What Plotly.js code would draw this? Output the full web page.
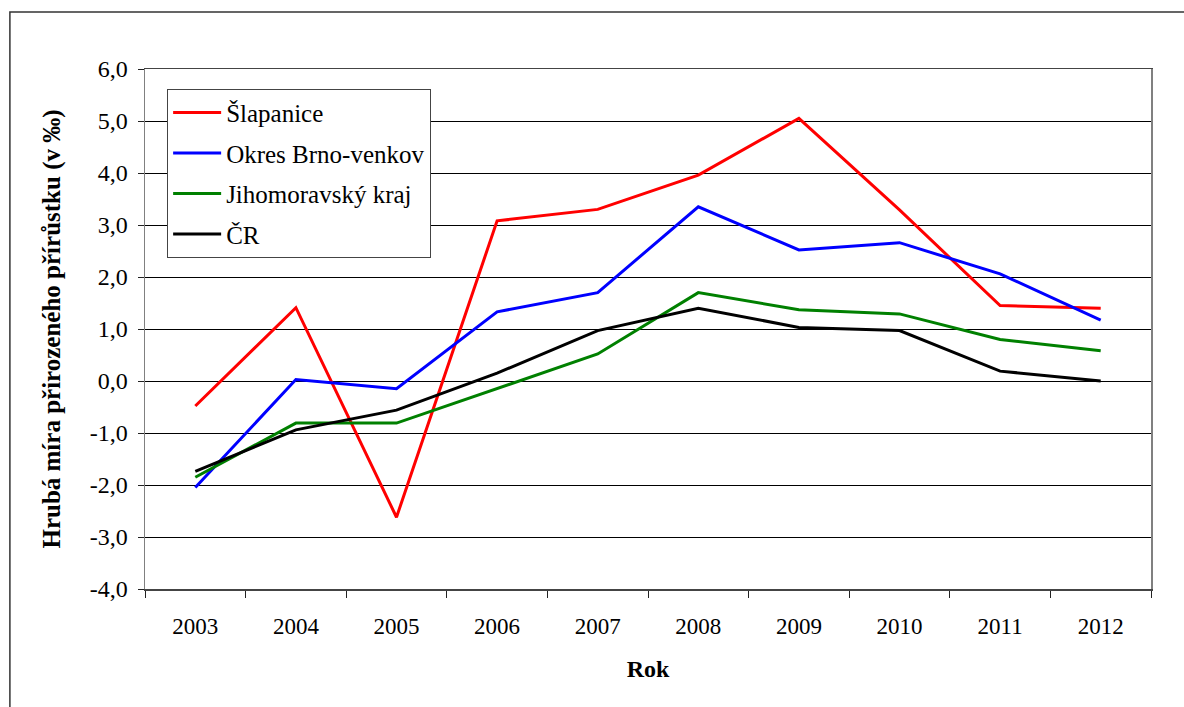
<!DOCTYPE html>
<html>
<head>
<meta charset="utf-8">
<script src="https://cdn.plot.ly/plotly-3.0.1.min.js"></script>
<style>html,body{margin:0;padding:0;background:#fff;}#chart{width:1184px;height:707px;}</style>
</head>
<body>
<div id="chart"></div>
<script>
const years = ["2003","2004","2005","2006","2007","2008","2009","2010","2011","2012"];
const seriesNames = ["Šlapanice", "Okres Brno-venkov", "Jihomoravský kraj", "ČR"];
const slapanice = [-0.48, 1.41, -2.62, 3.08, 3.30, 3.96, 5.05, 3.29, 1.45, 1.40];
const brnoVenkov = [-2.05, 0.03, -0.15, 1.33, 1.70, 3.35, 2.52, 2.66, 2.06, 1.17];
const jihomoravsky = [-1.85, -0.81, -0.81, -0.14, 0.52, 1.70, 1.37, 1.29, 0.80, 0.58];
const cr = [-1.74, -0.94, -0.56, 0.15, 0.97, 1.40, 1.03, 0.97, 0.19, 0.00];
const yTickVals = [-4, -3, -2, -1, 0, 1, 2, 3, 4, 5, 6];
const yTickText = yTickVals.map(v => v.toFixed(1).replace(".", ","));
const colors = ["#FF0000", "#0000FF", "#008000", "#000000"];

const allSeries = [slapanice, brnoVenkov, jihomoravsky, cr];
const traces = allSeries.map((vals, i) => ({
  x: years, y: vals, type: "scatter", mode: "lines",
  name: seriesNames[i], legendgroup: "g" + i,
  line: {color: colors[i], width: 3}
}));

const fam = "'Liberation Serif', 'Times New Roman', serif";
const font = {family: fam, size: 23, color: "#000"};

const layout = {
  width: 1184, height: 707,
  margin: {l: 145, r: 33, t: 69, b: 118},
  paper_bgcolor: "#fff", plot_bgcolor: "#fff",
  font: font,
  showlegend: true,
  legend: {
    x: 0.022, y: 0.962, xanchor: "left", yanchor: "top",
    bgcolor: "#fff", bordercolor: "#444", borderwidth: 1,
    font: {family: fam, size: 25, color: "#000"},
    tracegroupgap: 5, itemwidth: 48,
    traceorder: "grouped"
  },
  xaxis: {
    type: "category", range: [-0.5, 9.5],
    tickson: "boundaries", ticks: "outside", ticklen: 7, tickcolor: "#222",
    ticklabelstandoff: 16,
    showgrid: false, showline: true, linecolor: "#444", linewidth: 1.5, mirror: true,
    tickfont: {family: fam, size: 23},
    title: {text: "<b>Rok</b>", font: {family: fam, size: 24}, standoff: 22},
    zeroline: false, fixedrange: true
  },
  yaxis: {
    range: [-4, 6], tickmode: "array", tickvals: yTickVals, ticktext: yTickText,
    ticks: "outside", ticklen: 6, tickcolor: "#222",
    ticklabelstandoff: 5,
    showgrid: true, gridcolor: "#000", gridwidth: 1,
    zeroline: false,
    showline: true, linecolor: "#808080", linewidth: 1.5, mirror: true,
    tickfont: {family: fam, size: 24},
    title: {text: "<b>Hrubá míra přirozeného přírůstku (v ‰)</b>", font: {family: fam, size: 25}, standoff: 22},
    fixedrange: true
  },
  shapes: [{
    type: "rect", xref: "paper", yref: "paper",
    x0: -0.1343, x1: 1.2, y0: -0.3, y1: 1.1096,
    line: {color: "#333", width: 1.5}, fillcolor: "rgba(0,0,0,0)", layer: "below"
  }]
};

Plotly.newPlot("chart", traces, layout, {displayModeBar: false, staticPlot: true});
</script>
</body>
</html>
